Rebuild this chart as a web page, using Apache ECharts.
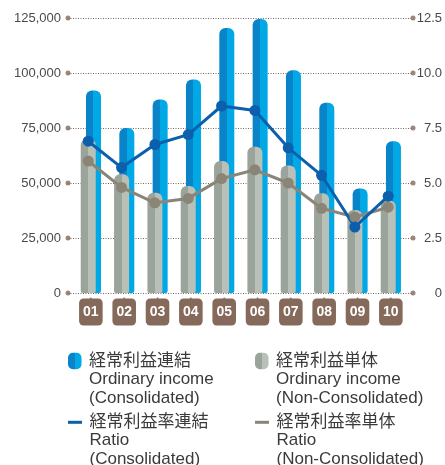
<!DOCTYPE html>
<html><head><meta charset="utf-8">
<script src="https://cdn.jsdelivr.net/npm/echarts@6/dist/echarts.min.js"></script>
<style>html,body{margin:0;padding:0;background:#fff}#c{width:445px;height:465px}</style>
</head><body><div id="c"></div>
<script>
const categories = ['01','02','03','04','05','06','07','08','09','10'];
const incomeConsolidated = [92000, 75000, 88000, 97000, 120500, 124500, 101300, 86500, 47500, 69000];
const incomeNonConsolidated = [70000, 54000, 45600, 48600, 60000, 66500, 58000, 45300, 37700, 42000];
const ratioConsolidated = [6.9, 5.7, 6.75, 7.2, 8.5, 8.3, 6.6, 5.35, 3.0, 4.4];
const ratioNonConsolidated = [6.0, 4.8, 4.1, 4.3, 5.2, 5.6, 5.0, 3.85, 3.45, 3.9];
const incomeTicks = [0, 25000, 50000, 75000, 100000, 125000];
const ratioTicks = [0, 2.5, 5, 7.5, 10, 12.5];
const seriesNames = ['経常利益連結', '経常利益単体', '経常利益率連結', '経常利益率単体'];
const seriesSubtitles = {
  '経常利益連結': ['Ordinary income', '(Consolidated)'],
  '経常利益単体': ['Ordinary income', '(Non-Consolidated)'],
  '経常利益率連結': ['Ratio', '(Consolidated)'],
  '経常利益率単体': ['Ratio', '(Non-Consolidated)']
};

const BLUE_D = '#0a84c9', BLUE_L = '#00a8e5';
const GRAY_D = '#9aa49b', GRAY_L = '#b8c0b8';
const LINE_BLUE = '#0b5fad', LINE_GRAY = '#8b8577';
const BROWN = '#85695a';
const TXT = '#4a4a4a';

function split(c1, c2) {
  return new echarts.graphic.LinearGradient(0, 0, 1, 0, [
    {offset: 0, color: c1}, {offset: 0.5, color: c1},
    {offset: 0.5, color: c2}, {offset: 1, color: c2}
  ]);
}

const TOP = 18, BOTTOM = 172;
const barLeft = 74.2, barRight = 37.5, shift = 2.62;
const LH = 18.5;
const pillIcon = 'path://M5,0 H9 A5,5 0 0 1 14,5 V12 A5,5 0 0 1 9,17 H5 A5,5 0 0 1 0,12 V5 A5,5 0 0 1 5,0 Z';

function legend(name, left, iconCenter, icon, w, h) {
  // two blank leading lines put the first real line on the icon's centre
  return {
    data: [{name: name, icon: icon}],
    left: left, top: iconCenter - 2.5 * LH,
    padding: 0, itemWidth: w, itemHeight: h, selectedMode: false,
    formatter: n => ['', ''].concat([n], seriesSubtitles[n]).join('\n'),
    textStyle: {
      fontSize: 17, lineHeight: LH, color: '#3a3a3a', padding: [0, 0, 0, 2.5],
      fontFamily: '"Liberation Sans", "Noto Sans CJK JP", sans-serif'
    }
  };
}

const chart = echarts.init(document.getElementById('c'), null, {renderer: 'canvas'});
chart.setOption({
  animation: false,
  backgroundColor: '#fff',
  textStyle: {fontFamily: '"Liberation Sans", "Noto Sans CJK JP", sans-serif'},
  grid: [
    {left: 68, right: 31, top: TOP, bottom: BOTTOM},
    {left: barLeft, right: barRight, top: TOP, bottom: BOTTOM},
    {left: barLeft - shift, right: barRight + shift, top: TOP, bottom: BOTTOM}
  ],
  xAxis: [
    {gridIndex: 0, type: 'value', min: 0, max: 1, show: false},
    {gridIndex: 1, type: 'category', data: categories,
      axisLine: {show: false}, axisTick: {show: false},
      axisLabel: {
        margin: 11, interval: 0,
        formatter: v => '{b|' + v + '}',
        rich: {
          b: {color: '#fff', fontWeight: 'bold', fontSize: 14, lineHeight: 16,
              backgroundColor: BROWN, borderRadius: 4.5, padding: [7, 4, 6, 4],
              fontFamily: '"Liberation Sans", sans-serif'}
        }
      }},
    {gridIndex: 2, type: 'category', data: categories, show: false}
  ],
  yAxis: [
    {gridIndex: 0, type: 'value', min: 0, max: 125000, interval: 25000, position: 'left',
      axisLine: {show: false}, axisTick: {show: false},
      axisLabel: {margin: 7, color: TXT, fontSize: 13,
        formatter: v => v.toLocaleString('en-US')},
      splitLine: {show: true, lineStyle: {color: '#6f6862', width: 1, type: [1, 1.5]}}},
    {gridIndex: 0, type: 'value', min: 0, max: 12.5, interval: 2.5, position: 'right',
      axisLine: {show: false}, axisTick: {show: false}, splitLine: {show: false},
      axisLabel: {margin: 29, align: 'right', color: TXT, fontSize: 13,
        formatter: v => v === 0 ? '0' : v.toFixed(1)}},
    {gridIndex: 1, type: 'value', min: 0, max: 125000, show: false},
    {gridIndex: 2, type: 'value', min: 0, max: 12.5, show: false}
  ],
  legend: [
    legend(seriesNames[0], 68, 361, pillIcon, 13.5, 17),
    legend(seriesNames[1], 255, 361, pillIcon, 13.5, 17),
    legend(seriesNames[2], 68, 422.3, 'rect', 14, 3),
    legend(seriesNames[3], 255, 422.3, 'rect', 14, 3)
  ],
  series: [
    {type: 'scatter', xAxisIndex: 0, yAxisIndex: 0, silent: true, clip: false,
      symbolSize: 5, itemStyle: {color: BROWN}, z: 5,
      data: incomeTicks.map(v => [0, v]).concat(incomeTicks.map(v => [1, v]))},
    {type: 'scatter', xAxisIndex: 1, yAxisIndex: 2, silent: true, clip: false,
      symbol: 'triangle', symbolSize: [5, 3.5], symbolOffset: [0, 5.8],
      itemStyle: {color: BROWN}, z: 5,
      data: categories.map(c => [c, 0])},
    {name: seriesNames[1], type: 'bar', xAxisIndex: 1, yAxisIndex: 2,
      data: incomeNonConsolidated, barWidth: 15, barGap: '-65%', z: 3,
      itemStyle: {color: split(GRAY_D, GRAY_L), borderRadius: [6, 6, 2, 2]}},
    {name: seriesNames[0], type: 'bar', xAxisIndex: 1, yAxisIndex: 2,
      data: incomeConsolidated, barWidth: 15, barGap: '-65%', z: 2,
      itemStyle: {color: split(BLUE_D, BLUE_L), borderRadius: [6, 6, 2, 2]}},
    {name: seriesNames[3], type: 'line', xAxisIndex: 2, yAxisIndex: 3,
      data: ratioNonConsolidated, z: 4, symbol: 'circle', symbolSize: 11,
      lineStyle: {color: LINE_GRAY, width: 3}, itemStyle: {color: LINE_GRAY}},
    {name: seriesNames[2], type: 'line', xAxisIndex: 2, yAxisIndex: 3,
      data: ratioConsolidated, z: 4, symbol: 'circle', symbolSize: 11,
      lineStyle: {color: LINE_BLUE, width: 3}, itemStyle: {color: LINE_BLUE}}
  ]
});
</script></body></html>
